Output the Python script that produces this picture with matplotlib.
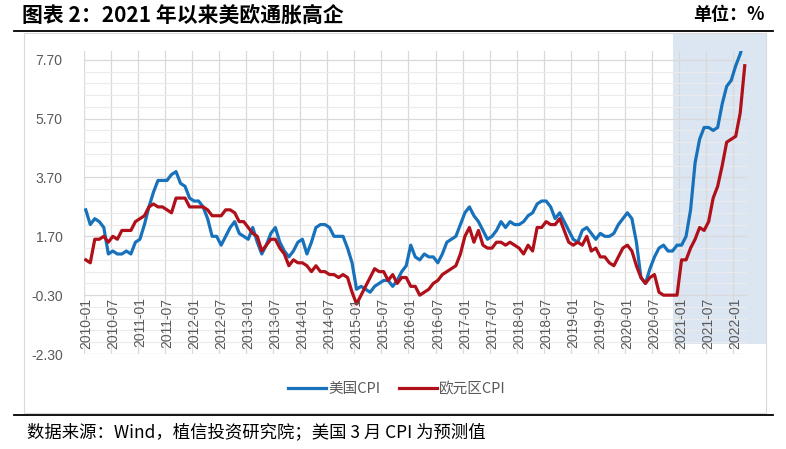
import numpy as np
import pandas as pd
import matplotlib
matplotlib.use('Agg')
import matplotlib.pyplot as plt
from matplotlib.patches import Rectangle
from matplotlib.lines import Line2D

plt.rcParams['font.family'] = ['Noto Sans CJK SC', 'DejaVu Sans']

# monthly categories 2010-01 .. 2022-03
months = pd.date_range('2010-01', '2022-03', freq='MS').strftime('%Y-%m').tolist()

# 美国CPI 同比 (%)
us_cpi = [
    2.6, 2.1, 2.3, 2.2, 2.0, 1.1, 1.2, 1.1, 1.1, 1.2, 1.1, 1.5,   # 2010
    1.6, 2.1, 2.7, 3.2, 3.6, 3.6, 3.6, 3.8, 3.9, 3.5, 3.4, 3.0,   # 2011
    2.9, 2.9, 2.7, 2.3, 1.7, 1.7, 1.4, 1.7, 2.0, 2.2, 1.8, 1.7,   # 2012
    1.6, 2.0, 1.5, 1.1, 1.4, 1.8, 2.0, 1.5, 1.2, 1.0, 1.2, 1.5,   # 2013
    1.6, 1.1, 1.5, 2.0, 2.1, 2.1, 2.0, 1.7, 1.7, 1.7, 1.3, 0.8,   # 2014
    -0.1, 0.0, -0.1, -0.2, 0.0, 0.1, 0.2, 0.2, 0.0, 0.2, 0.5, 0.7,  # 2015
    1.4, 1.0, 0.9, 1.1, 1.0, 1.0, 0.8, 1.1, 1.5, 1.6, 1.7, 2.1,   # 2016
    2.5, 2.7, 2.4, 2.2, 1.9, 1.6, 1.7, 1.9, 2.2, 2.0, 2.2, 2.1,   # 2017
    2.1, 2.2, 2.4, 2.5, 2.8, 2.9, 2.9, 2.7, 2.3, 2.5, 2.2, 1.9,   # 2018
    1.6, 1.5, 1.9, 2.0, 1.8, 1.6, 1.8, 1.7, 1.7, 1.8, 2.1, 2.3,   # 2019
    2.5, 2.3, 1.5, 0.3, 0.1, 0.6, 1.0, 1.3, 1.4, 1.2, 1.2, 1.4,   # 2020
    1.4, 1.7, 2.6, 4.2, 5.0, 5.4, 5.4, 5.3, 5.4, 6.2, 6.8, 7.0,   # 2021
    7.5, 7.9, 8.4,                                                # 2022
]

# 欧元区CPI 同比 (%)
ea_cpi = [
    0.9, 0.8, 1.6, 1.6, 1.7, 1.5, 1.7, 1.6, 1.9, 1.9, 1.9, 2.2,   # 2010
    2.3, 2.4, 2.7, 2.8, 2.7, 2.7, 2.6, 2.5, 3.0, 3.0, 3.0, 2.7,   # 2011
    2.7, 2.7, 2.7, 2.6, 2.4, 2.4, 2.4, 2.6, 2.6, 2.5, 2.2, 2.2,   # 2012
    2.0, 1.8, 1.7, 1.2, 1.4, 1.6, 1.6, 1.3, 1.1, 0.7, 0.9, 0.8,   # 2013
    0.8, 0.7, 0.5, 0.7, 0.5, 0.5, 0.4, 0.4, 0.3, 0.4, 0.3, -0.2,  # 2014
    -0.6, -0.3, 0.0, 0.3, 0.6, 0.5, 0.5, 0.2, 0.4, 0.1, 0.3, 0.3,   # 2015
    0.0, 0.0, -0.3, -0.2, -0.1, 0.1, 0.2, 0.4, 0.5, 0.6, 0.7, 1.1,  # 2016
    1.7, 2.0, 1.5, 1.9, 1.4, 1.3, 1.3, 1.5, 1.5, 1.4, 1.5, 1.4,   # 2017
    1.3, 1.1, 1.4, 1.2, 2.0, 2.0, 2.2, 2.1, 2.1, 2.3, 1.9, 1.5,   # 2018
    1.4, 1.5, 1.4, 1.7, 1.2, 1.3, 1.0, 1.0, 0.8, 0.7, 1.0, 1.3,   # 2019
    1.4, 1.2, 0.7, 0.3, 0.1, 0.3, 0.4, -0.2, -0.3, -0.3, -0.3, -0.3,  # 2020
    0.9, 0.9, 1.3, 1.6, 2.0, 1.9, 2.2, 3.0, 3.4, 4.1, 4.9, 5.0,   # 2021
    5.1, 5.9, 7.5,                                                # 2022
]

y_ticks = [-2.3, -0.3, 1.7, 3.7, 5.7, 7.7]

W, H = 786, 449
fig = plt.figure(figsize=(W / 100, H / 100), dpi=100)


def fx(px):
    return px / W


def fy(py):
    return 1 - py / H


ax = fig.add_axes([fx(83.5), fy(354), fx(747) - fx(83.5), fy(51) - fy(354)])
ax.patch.set_alpha(0)

x = np.arange(len(months))
ax.plot(x, us_cpi, color='#1872BB', lw=2.3, label='美国CPI', solid_joinstyle='round')
ax.plot(x, ea_cpi, color='#B0101A', lw=2.3, label='欧元区CPI', solid_joinstyle='round')

ax.set_xlim(-0.5, len(months) - 0.5)
ax.set_ylim(-2.3, 8.0)

ax.set_xticks(np.arange(-0.5, len(months), 6))
ax.set_xticklabels([])
ax.set_yticks(y_ticks)
ax.set_yticklabels([f'{v:.2f}' for v in y_ticks], family=['Liberation Sans', 'DejaVu Sans'],
                   fontsize=10, color='#595959')
ax.set_yticks(np.arange(-2.3, 8.0, 0.4), minor=True)
ax.tick_params(which='both', length=0)
ax.tick_params(axis='y', pad=15)
ax.grid(which='minor', axis='y', color='#EBEBEB', lw=0.8)
ax.grid(which='major', axis='y', color='#D9D9D9', lw=0.9)
ax.grid(which='major', axis='x', color='#D9D9D9', lw=0.9)
ax.set_axisbelow(True)
for s in ax.spines.values():
    s.set_visible(False)

# category labels sit just under the -0.30 line
for i in range(0, len(months), 6):
    ax.text(i, -0.38, months[i], rotation=90, ha='center', va='top', fontsize=10,
            color='#595959', family=['Liberation Sans', 'DejaVu Sans'])

# shaded block from late 2020 onward
left_px = ax.transData.transform((130, 0))[0]
fig.patches.append(Rectangle((left_px / W, fy(344)), fx(766) - left_px / W, fy(33) - fy(344),
                             facecolor='#DCE6F2', edgecolor='none',
                             transform=fig.transFigure, zorder=-2))
# chart frame
fig.patches.append(Rectangle((fx(24), fy(413)), fx(766) - fx(24), fy(33) - fy(413),
                             fill=False, edgecolor='#D9D9D9', lw=0.8,
                             transform=fig.transFigure, zorder=-1))
# black rules
for yy in (31, 415):
    fig.add_artist(Line2D([fx(14), fx(773)], [fy(yy), fy(yy)], color='black', lw=1.3,
                          transform=fig.transFigure))

handles, labels = ax.get_legend_handles_labels()
fig.legend(handles, labels, loc='center', bbox_to_anchor=(fx(397), fy(389)), ncol=2,
           frameon=False, fontsize=10.5, handlelength=2.6, handletextpad=0.15,
           columnspacing=1.3, labelcolor='#595959')

fig.text(fx(22), fy(15), '图表 2：2021 年以来美欧通胀高企', fontsize=15, weight='bold', va='center')
fig.text(fx(765), fy(15), '单位：%', fontsize=13, weight='bold', va='center', ha='right')
fig.text(fx(27), fy(432), '数据来源：Wind，植信投资研究院；美国 3 月 CPI 为预测值',
         fontsize=12.5, va='center')

fig.savefig('out.png', dpi=100)
